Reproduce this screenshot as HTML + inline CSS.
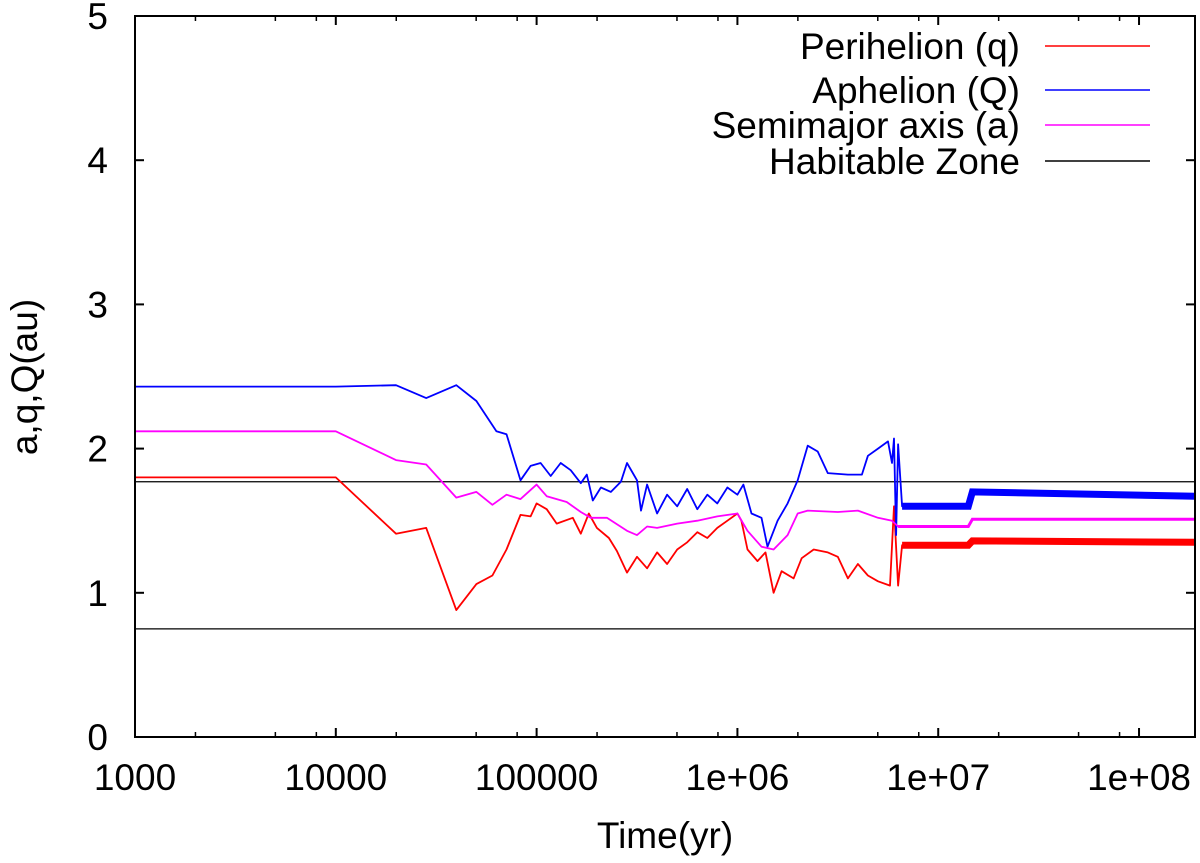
<!DOCTYPE html>
<html><head><meta charset="utf-8"><style>
body{margin:0;background:#fff}
svg text{font-family:"Liberation Sans",sans-serif;font-size:37px;fill:#000}
</style></head><body>
<svg id="chart" width="1200" height="858" xmlns="http://www.w3.org/2000/svg">
<g id="plot"></g>
</svg>
<script>
const logTimeQ=[3,4,4.3,4.45,4.6,4.7,4.78,4.85,4.92,4.97,5.0,5.05,5.1,5.18,5.22,5.26,5.3,5.36,5.4,5.45,5.5,5.55,5.6,5.65,5.7,5.75,5.8,5.85,5.9,5.95,6.0,6.02,6.05,6.1,6.14,6.18,6.22,6.28,6.32,6.38,6.45,6.5,6.55,6.6,6.65,6.7,6.76,6.78,6.8,6.82,7.15,7.17,8.28];
const perihelion=[1.80,1.80,1.41,1.45,0.88,1.06,1.12,1.30,1.54,1.53,1.62,1.58,1.48,1.52,1.41,1.55,1.45,1.38,1.29,1.14,1.25,1.17,1.28,1.20,1.30,1.35,1.42,1.38,1.45,1.50,1.55,1.50,1.30,1.22,1.28,1.00,1.15,1.10,1.24,1.30,1.28,1.25,1.10,1.20,1.12,1.08,1.05,1.60,1.05,1.33,1.33,1.36,1.35];
const logTimeBig=[3,4,4.3,4.45,4.6,4.7,4.8,4.85,4.92,4.97,5.02,5.07,5.12,5.17,5.22,5.25,5.28,5.32,5.37,5.42,5.45,5.5,5.52,5.55,5.6,5.65,5.7,5.75,5.8,5.85,5.9,5.95,6.0,6.03,6.07,6.12,6.15,6.2,6.25,6.3,6.35,6.4,6.45,6.55,6.62,6.65,6.7,6.75,6.77,6.78,6.79,6.80,6.82,7.15,7.17,8.28];
const aphelion=[2.43,2.43,2.44,2.35,2.44,2.33,2.12,2.10,1.78,1.88,1.90,1.81,1.90,1.85,1.76,1.82,1.64,1.73,1.70,1.77,1.90,1.78,1.57,1.75,1.55,1.68,1.60,1.72,1.58,1.68,1.62,1.73,1.68,1.75,1.55,1.52,1.32,1.50,1.62,1.78,2.02,1.98,1.83,1.82,1.82,1.95,2.0,2.05,1.90,2.07,1.40,2.03,1.60,1.60,1.70,1.67];
const logTimeA=[3,4,4.3,4.45,4.6,4.7,4.78,4.85,4.92,5.0,5.05,5.15,5.22,5.27,5.35,5.45,5.5,5.55,5.6,5.7,5.8,5.9,6.0,6.05,6.12,6.18,6.25,6.3,6.35,6.5,6.6,6.7,6.77,6.8,7.15,7.17,8.28];
const semimajor=[2.12,2.12,1.92,1.89,1.66,1.70,1.61,1.68,1.65,1.75,1.67,1.63,1.56,1.52,1.52,1.43,1.40,1.46,1.45,1.48,1.50,1.53,1.55,1.43,1.32,1.30,1.40,1.55,1.57,1.56,1.57,1.52,1.50,1.46,1.46,1.51,1.51];
const habitable=[0.75,1.77];
const xTicks=[3,4,5,6,7,8];
const xTickLabels=["1000","10000","100000","1e+06","1e+07","1e+08"];
const yTicks=[0,1,2,3,4,5];
const L=135,R=1195,T=16,B=737,XMAX=Math.log10(1.9e8);
const X=v=>L+(v-3)/(XMAX-3)*(R-L);
const Y=v=>B-(v/5)*(B-T);
const NS="http://www.w3.org/2000/svg";
const g=document.getElementById('plot');
function mk(t,a){const e=document.createElementNS(NS,t);for(const k in a)e.setAttribute(k,a[k]);g.appendChild(e);return e;}
habitable.forEach((h,i)=>{const e=mk('line',{x1:L,x2:R,y1:Y(h),y2:Y(h),stroke:'#000','stroke-width':1.3});

});
function series(xs,ys,col,name,bandW){
  const pts=xs.map((x,i)=>X(x).toFixed(1)+','+Y(ys[i]).toFixed(1)).join(' ');
  const e=mk('polyline',{points:pts,fill:'none',stroke:col,'stroke-width':1.8,'stroke-linejoin':'round'});
  
  
  const n=xs.length;
  const p2=xs.slice(n-4).map((x,i)=>X(x).toFixed(1)+','+Y(ys[n-4+i]).toFixed(1)).join(' ');
  const b=mk('polyline',{points:p2,fill:'none',stroke:col,'stroke-width':bandW});
  
  
}
series(logTimeQ,perihelion,'#ff0000','perihelion-line',7);
series(logTimeBig,aphelion,'#0000ff','aphelion-line',7);
series(logTimeA,semimajor,'#ff00ff','semimajor-line',3);
const f=mk('rect',{x:L,y:T,width:R-L,height:B-T,fill:'none',stroke:'#000','stroke-width':2});


yTicks.forEach(v=>{
  mk('line',{x1:L,x2:L+9,y1:Y(v),y2:Y(v),stroke:'#000','stroke-width':2});
  mk('line',{x1:R-9,x2:R,y1:Y(v),y2:Y(v),stroke:'#000','stroke-width':2});
  const t=mk('text',{x:L-27,y:Y(v)+13,'text-anchor':'end'});t.textContent=v;
  
  
});
xTicks.forEach((v,i)=>{
  mk('line',{x1:X(v),x2:X(v),y1:B,y2:B-9,stroke:'#000','stroke-width':2});
  mk('line',{x1:X(v),x2:X(v),y1:T,y2:T+9,stroke:'#000','stroke-width':2});
  [2,5,8].forEach(k=>{const m=v+Math.log10(k);if(m<XMAX){
    mk('line',{x1:X(m),x2:X(m),y1:B,y2:B-5,stroke:'#000','stroke-width':1.5});
    mk('line',{x1:X(m),x2:X(m),y1:T,y2:T+5,stroke:'#000','stroke-width':1.5});}});
  const t=mk('text',{x:X(v),y:790,'text-anchor':'middle'});t.textContent=xTickLabels[i];
  
  
});
const xt=mk('text',{x:665,y:848,'text-anchor':'middle'});xt.textContent='Time(yr)';


const yt=mk('text',{x:0,y:0,'text-anchor':'middle',transform:'translate(37,377) rotate(-90)'});yt.textContent='a,q,Q(au)';


const leg=[['Perihelion (q)','#ff0000',46],['Aphelion (Q)','#0000ff',90],['Semimajor axis (a)','#ff00ff',125],['Habitable Zone','#000',161]];
leg.forEach(l=>{
  const t=mk('text',{x:1020,y:l[2]+13,'text-anchor':'end'});t.textContent=l[0];
  
  
  const s=mk('line',{x1:1045,x2:1150,y1:l[2],y2:l[2],stroke:l[1],'stroke-width':1.6});
  
  
});
</script>
</body></html>
